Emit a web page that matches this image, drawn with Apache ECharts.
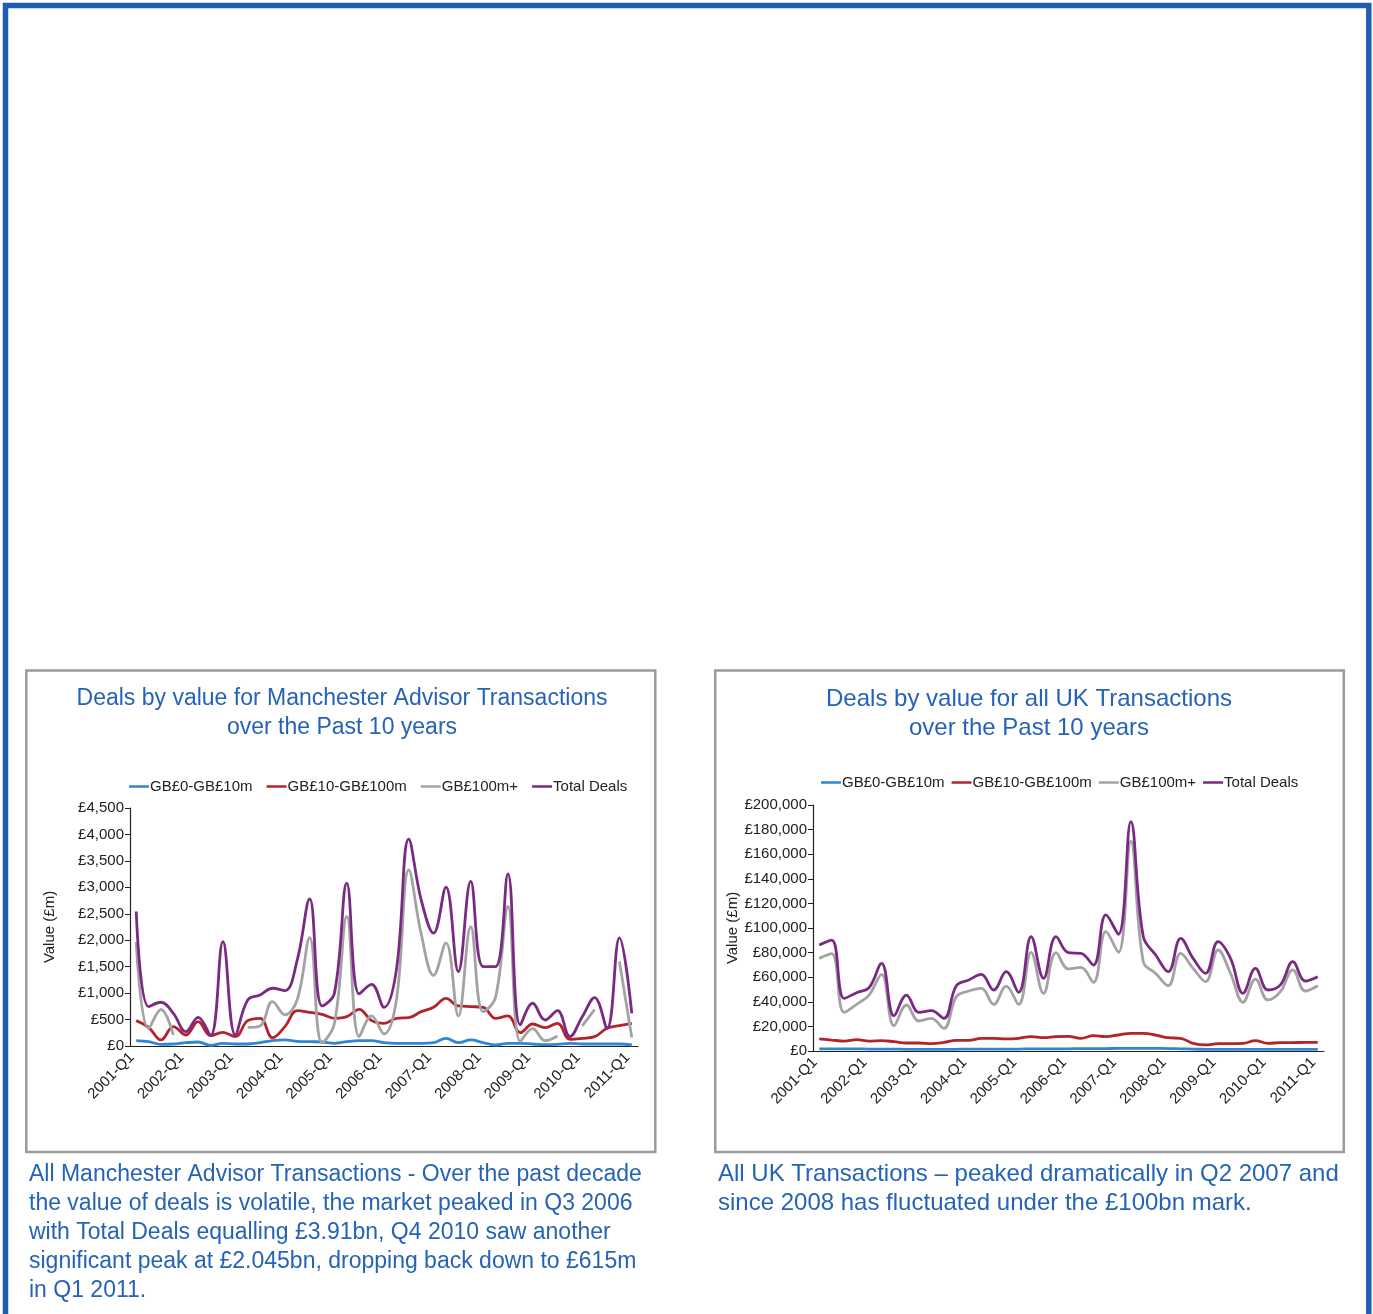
<!DOCTYPE html>
<html>
<head>
    <meta charset="utf-8">
    <title>Deals by value</title>
    <script src="https://cdn.jsdelivr.net/npm/echarts@6/dist/echarts.min.js"></script>
    <style>
        html, body { margin:0; padding:0; background:#fff; }
        #main { width:1373px; height:1314px; }
    </style>
</head>
<body>
<div id="main"></div>
<script>
// quarters 2001-Q1 .. 2011-Q1
var quarters = [];
for (var y = 2001; y <= 2011; y++) {
    for (var q = 1; q <= 4; q++) {
        if (y == 2011 && q > 1) break;
        quarters.push(y + '-Q' + q);
    }
}

var seriesNames = ['GB£0-GB£10m', 'GB£10-GB£100m', 'GB£100m+', 'Total Deals'];
var seriesColors = ['#2f86d4', '#b3232b', '#a3a3a3', '#7a2a82'];

// Manchester advisor transactions (£m)
var manSmall = [101,82,32,38,63,76,13,50,38,38,63,101,114,88,82,76,50,82,101,101,63,50,50,50,63,145,63,114,63,19,50,50,38,25,32,50,38,38,38,38,19];
var manMid = [480,353,114,366,208,461,196,259,177,480,524,158,366,669,637,600,524,555,694,480,429,524,536,650,732,902,757,745,732,524,568,252,416,347,429,126,145,177,334,385,429];
var manLarge = [1962,330,690,208,null,null,null,null,null,353,380,840,590,880,2050,60,430,2450,180,570,230,870,3330,2120,1335,1950,570,2255,650,920,2638,85,330,100,190,null,380,690,null,1600,160];
var manTotal = [2543,745,827,618,271,543,196,1975,208,871,966,1092,1048,1628,2783,757,1000,3080,985,1167,732,1439,3910,2764,2133,3004,1407,3111,1502,1502,3256,398,808,492,669,177,555,915,334,2045,615];

// all UK transactions (£m)
var ukSmall = [1800,1800,1700,1700,1600,1600,1500,1400,1400,1300,1300,1400,1500,1500,1500,1600,1600,1700,1700,1800,1800,1900,1900,2000,2100,2200,2200,2100,2000,1800,1500,1400,1300,1300,1300,1400,1400,1400,1400,1400,1400];
var ukMid = [9800,8900,8100,9200,8100,8400,7600,6500,6500,6000,7000,8700,8700,10300,10300,9800,10300,11700,10800,11700,11900,10300,12500,11700,13000,14400,14400,13000,10800,10300,6200,4900,6000,6000,6200,8400,6200,6800,6800,7000,7000];
var ukLarge = [75300,79100,31400,37900,45500,62300,20600,37400,24400,26600,18400,44200,48800,50900,37900,52800,37900,80200,46900,79900,66700,68000,55800,97000,80200,170700,72600,63100,53100,79400,67200,56400,82100,63100,39600,58500,41500,48200,65900,48800,53100];
var ukTotal = [86200,90200,42800,47400,51500,71300,28700,45500,31400,32800,26600,53100,57700,62300,49600,64500,47700,93000,59100,93000,79900,79400,69900,110600,94900,186400,93000,78000,64500,91600,75300,63100,88900,75300,46900,67200,49600,53700,72600,56900,60400];

var blue = '#2563b6';
var fontFam = '"Liberation Sans", Arial, Helvetica, sans-serif';

function poundFmt(v) {
    return '£' + v.toString().replace(/\B(?=(\d{3})+(?!\d))/g, ',');
}

function makeSeries(idx, list) {
    var out = [];
    for (var i = 0; i < list.length; i++) {
        out.push({
            name: seriesNames[i],
            type: 'line',
            xAxisIndex: idx,
            yAxisIndex: idx,
            data: list[i],
            smooth: 0.4,
            showSymbol: false,
            connectNulls: false,
            lineStyle: { color: seriesColors[i], width: 2.8 },
            itemStyle: { color: seriesColors[i] },
            z: 2 + i
        });
    }
    return out;
}

function xAxisOpt(idx) {
    return {
        type: 'category',
        gridIndex: idx,
        data: quarters,
        boundaryGap: true,
        axisLine: { lineStyle: { color: '#222', width: 1.2 } },
        axisTick: { interval: 3, length: 5, lineStyle: { color: '#222' } },
        axisLabel: { interval: 3, rotate: 45, color: '#222', fontSize: 15, fontFamily: fontFam, margin: 5,
                     padding: [0, 6, 0, 0] }
    };
}

function yAxisOpt(idx, max, interval, gap) {
    return {
        type: 'value',
        gridIndex: idx,
        min: 0, max: max, interval: interval,
        name: 'Value (£m)',
        nameLocation: 'middle',
        nameGap: gap,
        nameRotate: 90,
        nameTextStyle: { color: '#222', fontSize: 15, fontFamily: fontFam },
        splitLine: { show: false },
        axisLine: { show: true, lineStyle: { color: '#222', width: 1.2 } },
        axisTick: { show: true, length: 5, lineStyle: { color: '#222' } },
        axisLabel: { color: '#222', fontSize: 15, fontFamily: fontFam, margin: 6, formatter: poundFmt }
    };
}

function legendOpt(left, top, gap) {
    return {
        left: left, top: top,
        icon: 'rect',
        itemWidth: 20, itemHeight: 2.5,
        itemGap: gap,
        data: seriesNames,
        textStyle: { color: '#222', fontSize: 15, fontFamily: fontFam, padding: [0, 0, 0, -4] }
    };
}

function textBlock(x, y, str, align, size) {
    return {
        type: 'text', x: x, y: y, silent: true,
        style: {
            text: str, fill: blue, fontSize: size, fontFamily: fontFam,
            lineHeight: 29, align: align, verticalAlign: 'top'
        }
    };
}

var chart = echarts.init(document.getElementById('main'));
var option = {
    backgroundColor: '#fff',
    animation: false,
    graphic: [
        // outer page frame
        { type: 'rect', silent: true, shape: { x: 5.5, y: 5.5, width: 1363.3, height: 2000 },
          style: { fill: 'none', stroke: '#1f5db0', lineWidth: 5.5 } },
        // chart boxes
        { type: 'rect', silent: true, shape: { x: 26.3, y: 670.5, width: 629, height: 481.5 },
          style: { fill: 'none', stroke: '#9b9b9b', lineWidth: 2.5 } },
        { type: 'rect', silent: true, shape: { x: 715.3, y: 670.5, width: 628.5, height: 481.5 },
          style: { fill: 'none', stroke: '#9b9b9b', lineWidth: 2.5 } },
        textBlock(342, 684, 'Deals by value for Manchester Advisor Transactions\nover the Past 10 years', 'center', 23),
        textBlock(1029, 685, 'Deals by value for all UK Transactions\nover the Past 10 years', 'center', 24),
        textBlock(29, 1160, 'All Manchester Advisor Transactions - Over the past decade\nthe value of deals is volatile, the market peaked in Q3 2006\nwith Total Deals equalling £3.91bn, Q4 2010 saw another\nsignificant peak at £2.045bn, dropping back down to £615m\nin Q1 2011.', 'left', 23),
        textBlock(718, 1160, 'All UK Transactions – peaked dramatically in Q2 2007 and\nsince 2008 has fluctuated under the £100bn mark.', 'left', 24)
    ],
    legend: [
        legendOpt(124, 774, 14),
        legendOpt(816, 770, 7)
    ],
    grid: [
        { left: 130, top: 808, width: 508, height: 238 },
        { left: 813, top: 805, width: 511, height: 246 }
    ],
    xAxis: [xAxisOpt(0), xAxisOpt(1)],
    yAxis: [yAxisOpt(0, 4500, 500, 73), yAxisOpt(1, 200000, 20000, 67)],
    series: makeSeries(0, [manSmall, manMid, manLarge, manTotal])
        .concat(makeSeries(1, [ukSmall, ukMid, ukLarge, ukTotal]))
};
chart.setOption(option);
</script>
</body>
</html>
